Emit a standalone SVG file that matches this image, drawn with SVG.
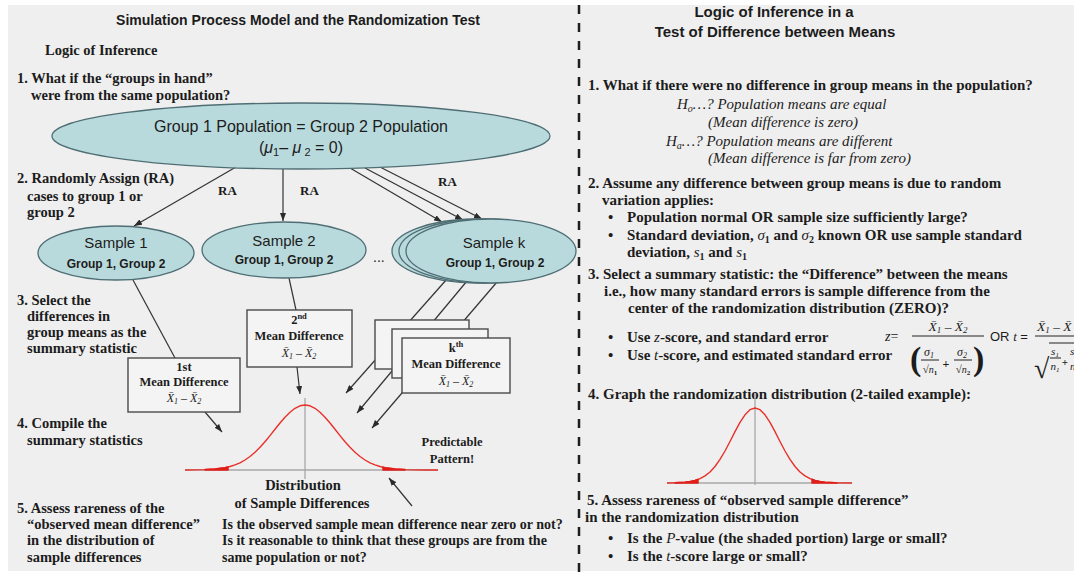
<svg xmlns="http://www.w3.org/2000/svg" width="1074" height="575" viewBox="0 0 1074 575">
<defs>
  <marker id="ah" markerWidth="8" markerHeight="6" refX="8" refY="3" orient="auto" markerUnits="userSpaceOnUse">
    <path d="M0,0 L8,3 L0,6 Z" fill="#2a2a2a"/>
  </marker>
  <style>
    .bg{fill:#efefef}
    .s{font-family:"Liberation Serif","Times New Roman",serif;font-weight:bold;fill:#1c1c1c}
    .l{font-size:14.5px}
    .r{font-size:15px}
    .a{font-family:"Liberation Sans",Arial,sans-serif;fill:#1c1c1c}
    .i{font-style:italic;font-weight:normal}
    .c{text-anchor:middle}
    .pop{fill:#b9dadd;stroke:#4f6e74;stroke-width:1.3}
    .box{fill:#f4f4f4;stroke:#4a4a4a;stroke-width:1.4}
    .ln{stroke:#333;stroke-width:1.2;fill:none}
    .ar{stroke:#333;stroke-width:1.2;fill:none;marker-end:url(#ah)}
    .curve{fill:none;stroke:#e8302a;stroke-width:1.4;stroke-linejoin:round}
    .tail{fill:#e01f1a;stroke:#e01f1a;stroke-width:1.5;stroke-linejoin:round}
    .axis{stroke:#a8a8a8;stroke-width:1.3}
    .fb{stroke:#222;stroke-width:1}
  </style>
</defs>

<!-- page background -->
<rect x="0" y="0" width="1074" height="575" fill="#ffffff"/>
<rect class="bg" x="8" y="5" width="1066" height="566"/>

<!-- connectors (drawn beneath the nodes) -->
<g id="connectors">
  <line class="ar" x1="236" y1="167" x2="134" y2="226"/>
  <line class="ar" x1="283" y1="169" x2="283" y2="221"/>
  <line class="ar" x1="350" y1="168" x2="442" y2="222"/>
  <line class="ar" x1="365" y1="168" x2="463" y2="220"/>
  <line class="ar" x1="380" y1="167" x2="482" y2="219"/>
  <line class="ln" x1="133" y1="280" x2="175" y2="358"/>
  <line class="ln" x1="289" y1="278" x2="296" y2="310"/>
  <line class="ar" x1="447" y1="279" x2="346" y2="393"/>
  <line class="ar" x1="467" y1="281" x2="357" y2="413"/>
  <line class="ar" x1="497" y1="282" x2="372" y2="428"/>
  <line class="ar" x1="205" y1="412" x2="222" y2="432"/>
  <line class="ar" x1="297" y1="367" x2="300" y2="394"/>
  <line class="ar" x1="412" y1="506" x2="389" y2="478"/>
</g>

<!-- left panel headings and steps -->
<g id="left-text">
  <text class="a c" x="298" y="25" font-size="14" font-weight="bold">Simulation Process Model and the Randomization Test</text>
  <text class="s l" x="45" y="55">Logic of Inference</text>
  <text class="s l" x="17" y="83">1. What if the “groups in hand”</text>
  <text class="s l" x="31" y="100">were from the same population?</text>
  <text class="s l" x="17" y="183">2. Randomly Assign (RA)</text>
  <text class="s l" x="27" y="201">cases to group 1 or</text>
  <text class="s l" x="27" y="217">group 2</text>
  <text class="s" font-size="13" x="218" y="195">RA</text>
  <text class="s" font-size="13" x="300" y="195">RA</text>
  <text class="s" font-size="13" x="438" y="186">RA</text>
  <text class="s l" x="17" y="305">3. Select the</text>
  <text class="s l" x="27" y="321">differences in</text>
  <text class="s l" x="27" y="337">group means as the</text>
  <text class="s l" x="27" y="353">summary statistic</text>
  <text class="s l" x="17" y="428">4. Compile the</text>
  <text class="s l" x="27" y="445">summary statistics</text>
  <text class="s l" x="17" y="513">5. Assess rareness of the</text>
  <text class="s l" x="27" y="529">“observed mean difference”</text>
  <text class="s l" x="27" y="545">in the distribution of</text>
  <text class="s l" x="27" y="562">sample differences</text>
  <text class="s" font-size="14" x="222" y="529">Is the observed sample mean difference near zero or not?</text>
  <text class="s" font-size="14" x="222" y="545">Is it reasonable to think that these groups are from the</text>
  <text class="s" font-size="14" x="222" y="562">same population or not?</text>
</g>

<!-- population node -->
<g id="population">
  <ellipse class="pop" cx="301" cy="136" rx="249" ry="33"/>
  <text class="a c" x="301" y="132" font-size="16">Group 1 Population = Group 2 Population</text>
  <text class="a c" x="301" y="153" font-size="16">(<tspan font-style="italic">μ</tspan><tspan font-size="11" dy="3">1</tspan><tspan dy="-3">– </tspan><tspan font-style="italic">μ</tspan><tspan font-size="11" dy="3"> 2</tspan><tspan dy="-3"> = 0)</tspan></text>
</g>

<!-- sample nodes -->
<g id="sample-1">
  <ellipse class="pop" cx="116" cy="253" rx="78" ry="27"/>
  <text class="a c" x="116" y="248" font-size="15">Sample 1</text>
  <text class="a c" x="116" y="268" font-size="12" font-weight="bold">Group 1, Group 2</text>
</g>
<g id="sample-2">
  <ellipse class="pop" cx="284" cy="250" rx="82" ry="28"/>
  <text class="a c" x="284" y="246" font-size="15">Sample 2</text>
  <text class="a c" x="284" y="264" font-size="12" font-weight="bold">Group 1, Group 2</text>
</g>
<text class="a" x="373" y="262" font-size="14">...</text>
<g id="sample-k">
  <ellipse class="pop" cx="477" cy="251" rx="85" ry="32"/>
  <ellipse class="pop" cx="484" cy="251" rx="85" ry="32"/>
  <ellipse class="pop" cx="491" cy="251" rx="85" ry="32"/>
  <text class="a c" x="494" y="248" font-size="15">Sample k</text>
  <text class="a c" x="495" y="267" font-size="12" font-weight="bold">Group 1, Group 2</text>
</g>

<!-- mean difference boxes -->
<g id="diff-1">
  <rect class="box" x="128" y="358" width="112" height="54"/>
  <text class="s c" x="184" y="371" font-size="12.5">1st</text>
  <text class="s c" x="184" y="386" font-size="12.5">Mean Difference</text>
  <text class="s c i" x="184" y="402" font-size="12">X&#x0304;<tspan font-size="8" dy="2">1</tspan><tspan dy="-2" font-style="normal"> – </tspan>X&#x0304;<tspan font-size="8" dy="2">2</tspan></text>
</g>
<g id="diff-2">
  <rect class="box" x="247" y="310" width="105" height="57"/>
  <text class="s c" x="299" y="324" font-size="12.5">2<tspan font-size="8.5" dy="-5">nd</tspan></text>
  <text class="s c" x="299" y="340" font-size="12.5">Mean Difference</text>
  <text class="s c i" x="299" y="357" font-size="12">X&#x0304;<tspan font-size="8" dy="2">1</tspan><tspan dy="-2" font-style="normal"> – </tspan>X&#x0304;<tspan font-size="8" dy="2">2</tspan></text>
</g>
<g id="diff-k">
  <rect class="box" x="375" y="320" width="94" height="49"/>
  <rect class="box" x="392" y="329" width="96" height="49"/>
  <rect class="box" x="402" y="338" width="108" height="55"/>
  <text class="s c" x="456" y="352" font-size="12.5">k<tspan font-size="8.5" dy="-5">th</tspan></text>
  <text class="s c" x="456" y="368" font-size="12.5">Mean Difference</text>
  <text class="s c i" x="456" y="385" font-size="12">X&#x0304;<tspan font-size="8" dy="2">1</tspan><tspan dy="-2" font-style="normal"> – </tspan>X&#x0304;<tspan font-size="8" dy="2">2</tspan></text>
</g>

<!-- distribution of sample differences -->
<g id="sampling-distribution">
  <line class="axis" x1="185" y1="470" x2="438" y2="470"/>
  <line class="axis" x1="305" y1="398" x2="305" y2="479"/>
  <polyline class="curve" points="185,470 195,469.9 205,469.6 215,469 225,467.7 230,466.5 235,464.9 240,462.8 245,460 250,456.5 255,452.3 260,447.3 265,441.7 270,435.6 275,429.3 280,423 285,417.2 290,412.2 295,408.3 300,405.8 305,405 310,405.8 315,408.3 320,412.2 325,417.2 330,423 335,429.3 340,435.6 345,441.7 350,447.3 355,452.3 360,456.5 365,460 370,462.8 375,464.9 380,466.5 385,467.7 395,469 405,469.6 415,469.9 425,470 438,470"/>
  <polygon class="tail" points="205,470 205,469.6 215,469 225,467.7 228,467 228,470"/>
  <polygon class="tail" points="383,470 383,467.3 385,467.7 395,469 405,469.6 405,470"/>
  <text class="s c" x="303" y="490" font-size="14.5">Distribution</text>
  <text class="s c" x="302" y="508" font-size="14.5">of Sample Differences</text>
  <text class="s c" x="452" y="446" font-size="12.5">Predictable</text>
  <text class="s c" x="452" y="463" font-size="12.5">Pattern!</text>
</g>

<!-- right panel -->
<g id="right-text">
  <text class="a c" x="774" y="17" font-size="15" font-weight="bold">Logic of Inference in a</text>
  <text class="a c" x="775" y="37" font-size="15" font-weight="bold">Test of Difference between Means</text>
  <text class="s r" x="588" y="90">1. What if there were no difference in group means in the population?</text>
  <text class="s r i" x="677" y="109">H<tspan font-size="10" dy="3">o</tspan><tspan dy="-3">…? Population means are equal</tspan></text>
  <text class="s r i" x="708" y="127">(Mean difference is zero)</text>
  <text class="s r i" x="666" y="146">H<tspan font-size="10" dy="3">a</tspan><tspan dy="-3">…? Population means are different</tspan></text>
  <text class="s r i" x="708" y="163">(Mean difference is far from zero)</text>

  <text class="s r" x="588" y="188">2. Assume any difference between group means is due to random</text>
  <text class="s r" x="602" y="205">variation applies:</text>
  <text class="s r" x="608" y="222">•</text>
  <text class="s r" x="627" y="222">Population normal OR sample size sufficiently large?</text>
  <text class="s r" x="608" y="240">•</text>
  <text class="s r" x="627" y="240">Standard deviation, <tspan class="i">σ</tspan><tspan font-size="10" dy="3">1</tspan><tspan dy="-3"> and </tspan><tspan class="i">σ</tspan><tspan font-size="10" dy="3">2</tspan><tspan dy="-3"> known OR use sample standard</tspan></text>
  <text class="s r" x="627" y="257">deviation, <tspan class="i">s</tspan><tspan font-size="10" dy="3">1</tspan><tspan dy="-3"> and </tspan><tspan class="i">s</tspan><tspan font-size="10" dy="3">1</tspan></text>

  <text class="s r" x="588" y="279">3. Select a summary statistic: the “Difference” between the means</text>
  <text class="s r" x="604" y="296">i.e., how many standard errors is sample difference from the</text>
  <text class="s r" x="628" y="313">center of the randomization distribution (ZERO)?</text>
  <text class="s r" x="608" y="342">•</text>
  <text class="s r" x="627" y="342">Use <tspan class="i">z</tspan>-score, and standard error</text>
  <text class="s r" x="608" y="360">•</text>
  <text class="s r" x="627" y="360">Use <tspan class="i">t</tspan>-score, and estimated standard error</text>

  <text class="s r" x="588" y="399">4. Graph the randomization distribution (2-tailed example):</text>
  <text class="s r" x="587" y="505">5. Assess rareness of “observed sample difference”</text>
  <text class="s r" x="585" y="522">in the randomization distribution</text>
  <text class="s r" x="608" y="543">•</text>
  <text class="s r" x="627" y="543">Is the <tspan class="i">P</tspan>-value (the shaded portion) large or small?</text>
  <text class="s r" x="608" y="561">•</text>
  <text class="s r" x="627" y="561">Is the <tspan class="i">t</tspan>-score large or small?</text>
</g>

<!-- test statistic formulas -->
<g id="formulas">
  <text class="s i" x="885" y="341" font-size="14">z<tspan font-style="normal">=</tspan></text>
  <text class="s i c" x="948" y="331" font-size="13.5">X&#x0304;<tspan font-size="9" dy="2">1</tspan><tspan dy="-2" font-style="normal"> – </tspan>X&#x0304;<tspan font-size="9" dy="2">2</tspan></text>
  <line class="fb" x1="912" y1="336" x2="984" y2="336"/>
  <text class="s" x="910" y="370" font-size="34" font-weight="normal">(</text>
  <text class="s" x="973" y="370" font-size="34" font-weight="normal">)</text>
  <text class="s i c" x="929" y="356" font-size="12">σ<tspan font-size="8" dy="2">1</tspan></text>
  <line class="fb" x1="921" y1="360" x2="939" y2="360"/>
  <text class="s c" x="930" y="373" font-size="11" font-weight="normal">√<tspan class="i" font-size="10">n</tspan><tspan font-size="7" dy="2">1</tspan></text>
  <text class="s c" x="946" y="368" font-size="12" font-weight="normal">+</text>
  <text class="s i c" x="962" y="356" font-size="12">σ<tspan font-size="8" dy="2">2</tspan></text>
  <line class="fb" x1="954" y1="360" x2="972" y2="360"/>
  <text class="s c" x="963" y="373" font-size="11" font-weight="normal">√<tspan class="i" font-size="10">n</tspan><tspan font-size="7" dy="2">2</tspan></text>

  <text class="a" x="990" y="341" font-size="13">OR <tspan font-family="Liberation Serif" font-style="italic">t</tspan> =</text>
  <text class="s i" x="1037" y="331" font-size="13.5">X&#x0304;<tspan font-size="9" dy="2">1</tspan><tspan dy="-2" font-style="normal"> – </tspan>X&#x0304;</text>
  <line class="fb" x1="1035" y1="336" x2="1074" y2="336"/>
  <text class="s" x="1034" y="378" font-size="28" font-weight="normal">√</text>
  <line class="fb" x1="1049" y1="343" x2="1074" y2="343"/>
  <text class="s i c" x="1055" y="355" font-size="11">s<tspan font-size="7" dy="2">1</tspan></text>
  <line class="fb" x1="1050" y1="358" x2="1061" y2="358"/>
  <text class="s i c" x="1055" y="370" font-size="11">n<tspan font-size="7" dy="2">1</tspan></text>
  <text class="s c" x="1065" y="366" font-size="11" font-weight="normal">+</text>
  <text class="s i" x="1070" y="355" font-size="11">s</text>
  <text class="s i" x="1070" y="370" font-size="11">n</text>
</g>

<!-- randomization distribution -->
<g id="randomization-distribution">
  <line class="axis" x1="667" y1="483" x2="852" y2="483"/>
  <line class="axis" x1="755" y1="393" x2="755" y2="485"/>
  <polyline class="curve" points="667,483 675,482.8 685,482.3 690,481.6 695,480.5 700,478.7 705,475.9 710,472 715,466.5 720,459.4 725,451 730,441.5 735,431.6 740,422.4 745,414.8 750,409.7 755,408 760,409.7 765,414.8 770,422.4 775,431.6 780,441.5 785,451 790,459.4 795,466.5 800,472 805,475.9 810,478.7 815,480.5 820,481.6 825,482.3 835,482.8 852,483"/>
  <polygon class="tail" points="675,483 675,482.8 685,482.3 690,481.6 695,480.5 698,479.5 698,483"/>
  <polygon class="tail" points="812,483 812,479.3 815,480.5 820,481.6 825,482.3 835,482.8 837,483"/>
</g>

<!-- panel divider -->
<line x1="579" y1="5" x2="579" y2="575" stroke="#1e1e1e" stroke-width="2.5" stroke-dasharray="9 9"/>
</svg>
